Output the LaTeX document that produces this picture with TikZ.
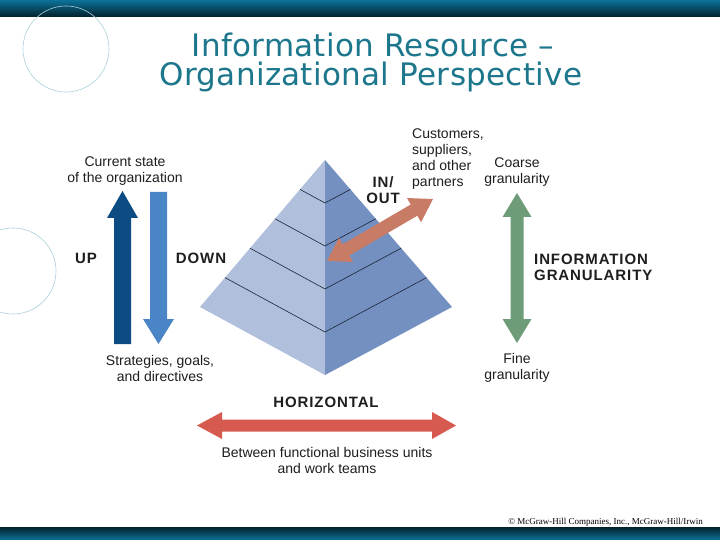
\documentclass[tikz,border=0pt]{standalone}
\usepackage{fontspec}
\setmainfont{Liberation Sans}
\newfontfamily\titlefont[LetterSpace=1]{DejaVu Sans}
\newfontfamily\boldfont[LetterSpace=6]{Liberation Sans Bold}
\newfontfamily\footfont{Liberation Serif}
\usetikzlibrary{calc}
\definecolor{bartop}{RGB}{12,114,152}
\definecolor{barbot}{RGB}{2,32,44}
\definecolor{titlecol}{RGB}{28,118,140}
\definecolor{circcol}{RGB}{170,208,220}
\definecolor{txt}{RGB}{30,30,30}
\definecolor{pyrleft}{RGB}{176,192,220}
\definecolor{pyrright}{RGB}{116,144,192}
\definecolor{pyrline}{RGB}{25,35,55}
\definecolor{upcol}{RGB}{12,76,130}
\definecolor{downcol}{RGB}{74,134,198}
\definecolor{inoutcol}{RGB}{200,124,102}
\definecolor{greencol}{RGB}{110,156,120}
\definecolor{redcol}{RGB}{214,90,80}
\begin{document}
\begin{tikzpicture}[x=1pt,y=-1pt,
  lbl/.style={font=\fontsize{14}{16}\selectfont, text=txt, align=center, inner sep=0pt},
  bld/.style={font=\boldfont\fontsize{15}{16}\selectfont, text=txt, align=center, inner sep=0pt},
  ttl/.style={font=\titlefont\fontsize{31}{34}\selectfont, text=titlecol, inner sep=0pt, anchor=base},
  circ/.style={draw=circcol, line width=0.6pt},
  layer/.style={draw=pyrline, line width=0.6pt}]
\useasboundingbox (0,0) rectangle (720,540);
\fill[white] (0,0) rectangle (720,540);
% bars
\shade[top color=bartop, bottom color=barbot] (0,0) rectangle (720,17);
\shade[top color=barbot, bottom color=bartop] (0,527) rectangle (720,540);
% decorative circles
\draw[circ] (66,49) circle (43pt);
\draw[circ] (13,271) circle (43pt);
% title
\node[ttl] (t1) at (373,57) {Information Resource –};
\node[ttl] (t2) at (371,86) {Organizational Perspective};
% pyramid
\coordinate (apex) at (325,160);
\coordinate (pl) at (200,307);
\coordinate (pb) at (325,375);
\coordinate (pr) at (452,307);
\fill[pyrleft] (apex) -- (pl) -- (pb) -- cycle;
\fill[pyrright] (apex) -- (pb) -- (pr) -- cycle;
\foreach \t in {0.2,0.4,0.6,0.8}{
  \draw[layer] ($(apex)!\t!(pl)$) -- ($(apex)!\t!(pb)$) -- ($(apex)!\t!(pr)$);
}
% IN/OUT arrow
\fill[inoutcol] (327,261) -- (338.92,237.81) -- (342.71,244.28) -- (410.73,204.50) -- (406.94,198.03)
  -- (433,199) -- (421.08,222.19) -- (417.29,215.72) -- (349.27,255.50) -- (353.06,261.97) -- cycle;
% UP arrow
\fill[upcol] (114,344) -- (114,218) -- (107,218) -- (122.5,191) -- (138,218) -- (131,218) -- (131,344) -- cycle;
% DOWN arrow
\fill[downcol] (150,192) -- (167,192) -- (167,319) -- (174,319) -- (158.5,344) -- (143,319) -- (150,319) -- cycle;
% green arrow
\fill[greencol] (517,193) -- (531.5,217) -- (523.5,217) -- (523.5,319) -- (531.5,319) -- (517,343)
  -- (502.5,319) -- (510.5,319) -- (510.5,217) -- (502.5,217) -- cycle;
% horizontal arrow
\fill[redcol] (197,425.5) -- (222,412) -- (222,419.5) -- (432,419.5) -- (432,412) -- (456,425.5)
  -- (432,439) -- (432,431.5) -- (222,431.5) -- (222,439) -- cycle;
% labels
\node[lbl] (cur) at (125,171) {Current state\\of the organization};
\node[lbl] (strat) at (160,368) {Strategies, goals,\\and directives};
\node[bld] (up) at (86,258.5) {UP};
\node[bld] (down) at (201,258.5) {DOWN};
\node[bld] (inout) at (383,190.5) {IN/\\OUT};
\node[lbl, align=left, anchor=west] (cust) at (412,159) {Customers,\\suppliers,\\and other\\partners};
\node[lbl] (coarse) at (517,172) {Coarse\\granularity};
\node[bld, align=left, anchor=west] (gran) at (534,267.5) {INFORMATION\\GRANULARITY};
\node[lbl] (fine) at (517,368) {Fine\\granularity};
\node[bld] (horiz) at (326,402) {HORIZONTAL};
\node[lbl] (betw) at (327,460) {Between functional business units\\and work teams};
% footer
\node[font=\footfont\fontsize{9}{10}\selectfont, text=black, inner sep=0pt, anchor=base east] (foot) at (703,524) {© McGraw-Hill Companies, Inc., McGraw-Hill/Irwin};
\end{tikzpicture}
\end{document}
